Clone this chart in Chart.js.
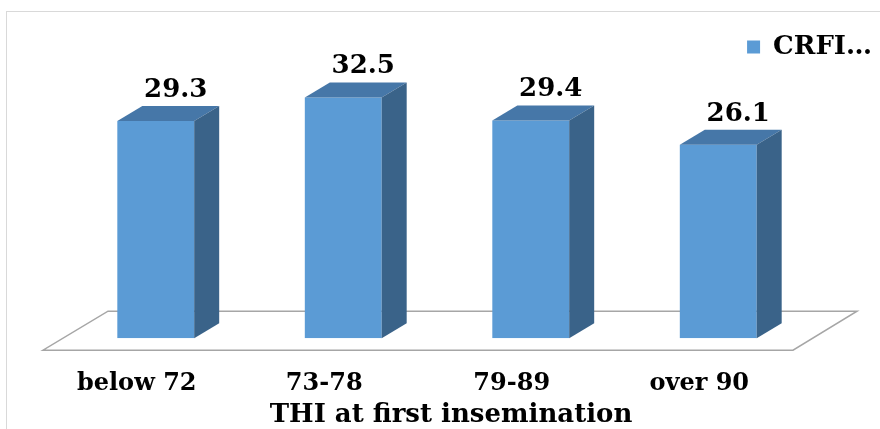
<!DOCTYPE html>
<html>
<head>
<meta charset="utf-8">
<script src="https://cdn.jsdelivr.net/npm/chart.js@4.4.0/dist/chart.umd.min.js"></script>
<style>
  html, body { margin: 0; padding: 0; background: #fff; }
</style>
</head>
<body>
<canvas id="chart" width="880" height="429"></canvas>
<script>
/* CRFI by THI at first insemination — 3D-look column chart */

var CATEGORIES  = ['below 72', '73-78', '79-89', 'over 90'];
var CRFI_VALUES = [29.3, 32.5, 29.4, 26.1];
var SERIES_NAME = 'CRFI\u2026';
var AXIS_TITLE  = 'THI at first insemination';

var FRONT = '#5B9BD5', TOP = '#4677A8', SIDE = '#3A6389';
var DX = 25, DY = 15;
var FONT = 'DejaVu Serif';

// draws the outer frame, the floor, the top/side faces of each bar and the axis title
var frame3d = {
  id: 'frame3d',
  beforeDraw: function(chart) {
    var ctx = chart.ctx;
    ctx.save();
    ctx.strokeStyle = '#D9D9D9';
    ctx.lineWidth = 1;
    ctx.strokeRect(6.5, 11.5, 1000, 1000);
    ctx.restore();
  },
  beforeDatasetsDraw: function(chart) {
    var a = chart.chartArea, ctx = chart.ctx, b = a.bottom;
    ctx.save();
    ctx.beginPath();
    ctx.moveTo(a.left - 19, b + 12);
    ctx.lineTo(a.right - 19, b + 12);
    ctx.lineTo(a.right + 45, b - 27);
    ctx.lineTo(a.left + 46, b - 27);
    ctx.closePath();
    ctx.fillStyle = '#fff';
    ctx.fill();
    ctx.strokeStyle = '#A6A6A6';
    ctx.lineWidth = 1.5;
    ctx.stroke();
    ctx.restore();
  },
  afterDatasetsDraw: function(chart) {
    var ctx = chart.ctx;
    var meta = chart.getDatasetMeta(0);
    ctx.save();
    meta.data.forEach(function(bar, i) {
      var l = bar.x - bar.width / 2, r = bar.x + bar.width / 2, t = bar.y, bt = bar.base;
      // top face
      ctx.fillStyle = TOP;
      ctx.beginPath();
      ctx.moveTo(l, t); ctx.lineTo(l + DX, t - DY); ctx.lineTo(r + DX, t - DY); ctx.lineTo(r, t);
      ctx.closePath();
      ctx.fill();
      // side face
      ctx.fillStyle = SIDE;
      ctx.beginPath();
      ctx.moveTo(r, t); ctx.lineTo(r + DX, t - DY); ctx.lineTo(r + DX, bt - DY); ctx.lineTo(r, bt);
      ctx.closePath();
      ctx.fill();
      // value label
      ctx.fillStyle = '#000';
      ctx.font = 'bold 26px "' + FONT + '"';
      ctx.textAlign = 'center';
      ctx.textBaseline = 'alphabetic';
      ctx.fillText(CRFI_VALUES[i].toFixed(1), bar.x + 20, t - DY - 9);
    });
    ctx.restore();
  },
  afterDraw: function(chart) {
    var x = chart.scales.x, ctx = chart.ctx;
    ctx.save();
    ctx.fillStyle = '#000';
    ctx.font = 'bold 26px "' + FONT + '"';
    ctx.textAlign = 'center';
    ctx.textBaseline = 'alphabetic';
    ctx.fillText(AXIS_TITLE, (x.left + x.right) / 2 + 14, 422);
    ctx.restore();
  }
};

new Chart(document.getElementById('chart'), {
  type: 'bar',
  data: {
    labels: CATEGORIES,
    datasets: [{
      label: SERIES_NAME,
      data: CRFI_VALUES,
      backgroundColor: FRONT,
      borderWidth: 0,
      barPercentage: 0.41,
      categoryPercentage: 1
    }]
  },
  options: {
    responsive: false,
    animation: false,
    layout: { padding: { left: 62, right: 0, top: 26, bottom: 0 } },
    plugins: {
      tooltip: { enabled: false },
      legend: {
        position: 'top',
        align: 'end',
        labels: {
          color: '#000',
          boxWidth: 13,
          boxHeight: 13,
          padding: 8,
          font: { family: FONT, size: 26, weight: 'bold' }
        }
      }
    },
    scales: {
      x: {
        grid: { display: false, drawTicks: false },
        border: { display: false },
        ticks: {
          color: '#000',
          padding: 31,
          labelOffset: -19,
          maxRotation: 0,
          autoSkip: false,
          font: { family: FONT, size: 24, weight: 'bold' }
        }
      },
      y: {
        position: 'right',
        min: 0,
        max: 36.2,
        grid: { display: false },
        border: { display: false },
        ticks: { display: false },
        afterFit: function(scale) { scale.width = 68; }
      }
    }
  },
  plugins: [frame3d]
});
</script>
</body>
</html>
